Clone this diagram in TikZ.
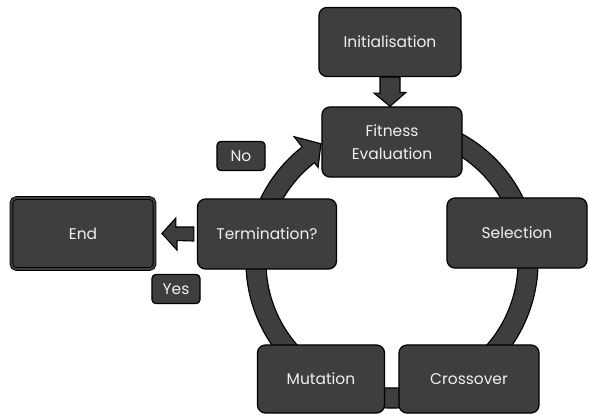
\documentclass[tikz,border=0pt]{standalone}
\usepackage{fontspec}
\setmainfont{Poppins}
\usepackage{xcolor}
\definecolor{boxgray}{RGB}{62,62,62}
\definecolor{boxtext}{RGB}{240,240,240}
\usetikzlibrary{calc}

\begin{document}
\begin{tikzpicture}[x=0.025cm, y=0.025cm,
	stage/.style={rectangle, draw=black, line width=0.9pt, fill=boxgray, rounded corners=0.2cm,
	              align=center, text=boxtext, minimum width=3.5cm, minimum height=1.75cm,
	              font=\fontsize{11}{16.5}\selectfont, inner sep=2pt},
	tag/.style={rectangle, draw=black, line width=0.9pt, fill=boxgray, rounded corners=0.1cm,
	            text=boxtext, minimum width=1.2cm, minimum height=0.73cm,
	            font=\fontsize{11}{13}\selectfont, inner sep=1pt},
	blockarr/.style={draw=black, line width=0.8pt, fill=boxgray, line join=miter},
	ringband/.style={draw=black, line width=0.8pt, fill=boxgray}
	]
\useasboundingbox (0,0) rectangle (589,415);
\coordinate (hub) at (392,153);

% cycle ring, drawn behind the stages
\draw[ringband] ([shift={(70:146)}]hub) arc[start angle=70, end angle=-232, radius=146]
	-- ([shift={(128:159)}]hub) -- ([shift={(121:138)}]hub) -- ([shift={(128:120)}]hub)
	-- ([shift={(128:126)}]hub) arc[start angle=-232, end angle=70, radius=126] -- cycle;

\node[stage, minimum width=3.55cm, minimum height=1.725cm] (init) at (390,373) {Initialisation};
\node[stage] (fit) at (392,273) {Fitness\\ Evaluation};
\node[stage] (sel) at (517,182) {Selection};
\node[stage, minimum height=1.7cm] (cross) at (469,36) {Crossover};
\node[stage, minimum width=3.175cm, minimum height=1.7cm] (mut) at (321,36) {Mutation};
\node[stage, minimum width=3.475cm] (term) at (267,181) {Termination?};
\node[stage, minimum width=3.575cm, minimum height=1.775cm, rounded corners=0.12cm,
      line width=0.6pt, double=boxgray, double distance=1.4pt] (end) at (83,181.5) {End};

\node[tag] (no) at (241,259) {No};
\node[tag] (yes) at (176,126) {Yes};

\draw[blockarr] ([shift={(-10,0)}]init.south) -- ++(0,-16) -- ++(-6,0) -- (init.south |- fit.north)
	-- ++(16,14) -- ++(-6,0) -- ([shift={(10,0)}]init.south) -- cycle;
\draw[blockarr] ([shift={(-3,7)}]term.west) -- ++(-18,0) -- ++(0,9) -- ([shift={(7,0)}]end.east)
	-- ++(15,-16.5) -- ++(0,9.5) -- ([shift={(-3,-7)}]term.west) -- cycle;
\end{tikzpicture}
\end{document}
